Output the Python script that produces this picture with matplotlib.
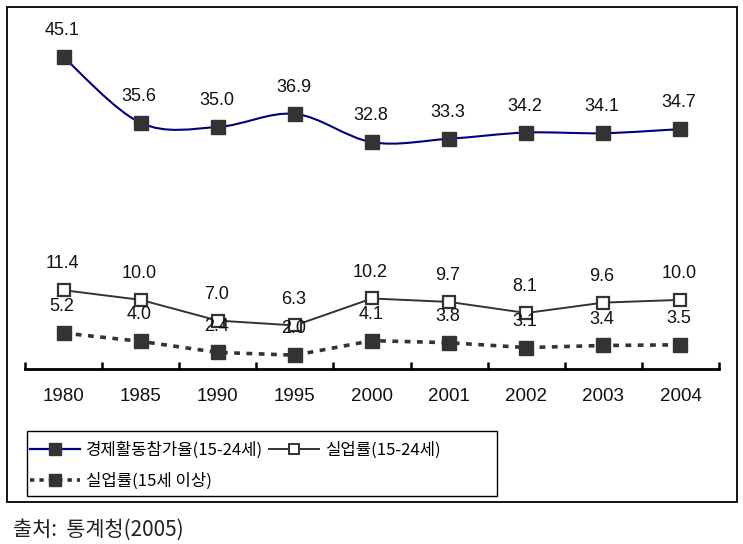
import numpy as np
import matplotlib
matplotlib.use("Agg")
import matplotlib.pyplot as plt
from matplotlib.path import Path
from matplotlib.patches import PathPatch, Rectangle
from matplotlib.lines import Line2D

plt.rcParams["font.family"] = ["Liberation Sans", "Noto Sans CJK KR", "DejaVu Sans"]

# ---------------- data ----------------
years = ["1980", "1985", "1990", "1995", "2000", "2001", "2002", "2003", "2004"]
lfp_youth = [45.1, 35.6, 35.0, 36.9, 32.8, 33.3, 34.2, 34.1, 34.7]    # 경제활동참가율(15-24세)
unemp_youth = [11.4, 10.0, 7.0, 6.3, 10.2, 9.7, 8.1, 9.6, 10.0]      # 실업률(15-24세)
unemp_all = [5.2, 4.0, 2.4, 2.0, 4.1, 3.8, 3.1, 3.4, 3.5]            # 실업률(15세 이상)
labels = ["경제활동참가율(15-24세)", "실업률(15-24세)", "실업률(15세 이상)"]
source = "출처:  통계청(2005)"
# --------------------------------------

NAVY = "#000080"
DARK = "#333333"
W, H = 743, 544

fig = plt.figure(figsize=(W / 100, H / 100), dpi=100)
ax = fig.add_axes([25 / W, 1 - 369 / H, 694 / W, (369 - 23.3) / H])

x = np.arange(len(years))


def smooth_path(xs, ys):
    # catmull-rom -> cubic bezier (excel style smoothed line)
    p = np.column_stack([xs, ys]).astype(float)
    ext = np.vstack([p[0], p, p[-1]])
    verts = [tuple(p[0])]
    codes = [Path.MOVETO]
    for i in range(len(p) - 1):
        p0, p1, p2, p3 = ext[i], ext[i + 1], ext[i + 2], ext[i + 3]
        c1 = p1 + (p2 - p0) / 6
        c2 = p2 - (p3 - p1) / 6
        verts += [tuple(c1), tuple(c2), tuple(p2)]
        codes += [Path.CURVE4] * 3
    return Path(verts, codes)


ax.add_patch(PathPatch(smooth_path(x, lfp_youth), facecolor="none",
                       edgecolor=NAVY, linewidth=1.5, zorder=2))
ax.plot(x, lfp_youth, ls="none", marker="s", ms=9.5, color=DARK, zorder=3)
ax.plot(x, unemp_youth, color=DARK, lw=1.4, marker="s", ms=8.5,
        mfc="white", mec=DARK, mew=1.6, zorder=3)
ax.plot(x, unemp_all, color=DARK, lw=2.6, ls=(0, (1.6, 1.8)), marker="s",
        ms=9.5, zorder=3)

for series in (lfp_youth, unemp_youth, unemp_all):
    for xi, v in zip(x, series):
        ax.annotate(f"{v:.1f}", (xi, v), xytext=(-1, 19), textcoords="offset points",
                    ha="center", va="center", fontsize=13, color="#111111")

ax.set_xlim(-0.5, len(years) - 0.5)
ax.set_ylim(0, 50)
for s in ("top", "left", "right"):
    ax.spines[s].set_visible(False)
ax.spines["bottom"].set_linewidth(2)
ax.set_yticks([])
ax.set_xticks(x)
ax.set_xticklabels(years, fontsize=13.5, color="#111111")
ax.set_xticks(np.arange(len(years) + 1) - 0.5, minor=True)
ax.tick_params(axis="x", which="major", length=0, pad=14)
ax.tick_params(axis="x", which="minor", direction="in", length=5, width=1.8)

handles = [
    Line2D([], [], color=NAVY, lw=1.6, marker="s", ms=9, mfc=DARK, mec=DARK),
    Line2D([], [], color=DARK, ls=(0, (1.2, 1.4)), lw=2.6, marker="s", ms=9),
    Line2D([], [], color=DARK, lw=1.4, marker="s", ms=7.5, mfc="white", mec=DARK, mew=1.4),
]
leg = fig.legend(handles, [labels[0], labels[2], labels[1]], ncol=2,
                 loc="upper left", bbox_to_anchor=(30 / W, 1 - 442 / H),
                 frameon=False, borderaxespad=0, borderpad=0,
                 handlelength=3.0, handletextpad=0.35, columnspacing=0.35,
                 labelspacing=0.8, prop={"family": ["Noto Sans CJK KR"], "size": 12})

fig.patches.append(Rectangle((27 / W, 1 - 496 / H), 470 / W, 65 / H,
                             transform=fig.transFigure, fill=False,
                             edgecolor="black", lw=1.0))
fig.patches.append(Rectangle((7 / W, 1 - 502 / H), 730 / W, 495 / H,
                             transform=fig.transFigure, fill=False,
                             edgecolor="black", lw=1.3))

fig.text(13 / W, 1 - 530 / H, source, fontsize=15, va="center", ha="left",
         family=["Noto Sans CJK KR"], color="#222222")

fig.savefig("out.png", dpi=100)
